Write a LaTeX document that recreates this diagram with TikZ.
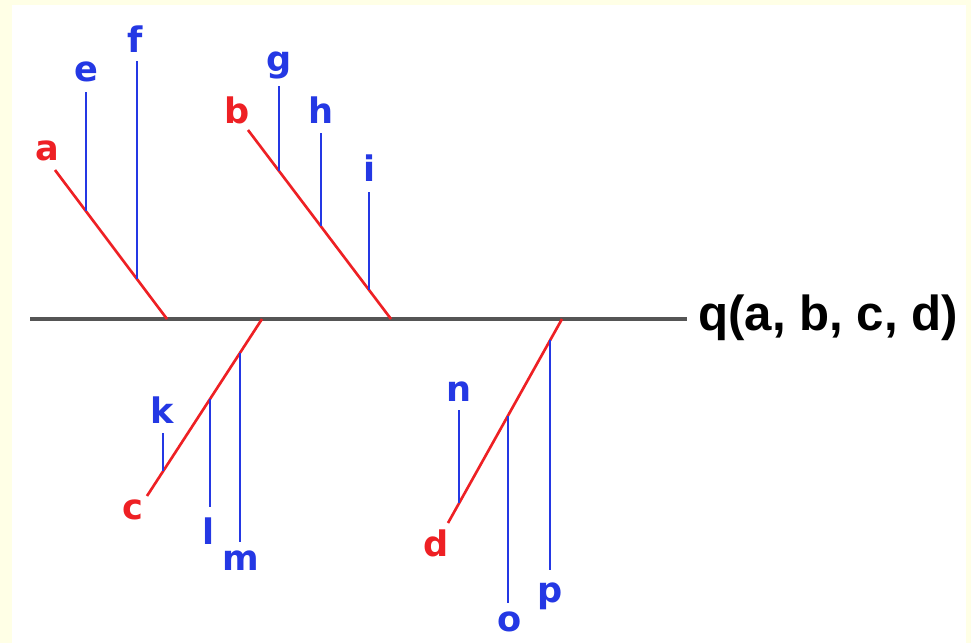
\documentclass[tikz,border=0pt]{standalone}
\usepackage{fontspec}
\setmainfont{Liberation Sans}
\newfontfamily\lblfont{DejaVu Sans}
\usetikzlibrary{calc}
\definecolor{bgyellow}{RGB}{255,255,230}
\definecolor{bonered}{RGB}{238,32,36}
\definecolor{boneblue}{RGB}{36,56,228}
\definecolor{spinegray}{RGB}{85,85,85}
\tikzstyle{redbone}=[draw=bonered, line width=1.5pt]
\tikzstyle{bluebone}=[draw=boneblue, line width=1.3pt]
\tikzstyle{redlbl}=[text=bonered, inner sep=0, font=\lblfont\bfseries\fontsize{20}{24}\selectfont]
\tikzstyle{bluelbl}=[text=boneblue, inner sep=0, font=\lblfont\bfseries\fontsize{20}{24}\selectfont]
\begin{document}
\begin{tikzpicture}[x=0.02cm, y=-0.02cm]
\fill[bgyellow] (0,0) rectangle (971,643);
\fill[white] (12,5) rectangle (966,643);
\coordinate (s0) at (30,319);
\coordinate (s1) at (687,319);
\draw[spinegray, line width=2.4pt] (s0) -- (s1);
\node[anchor=west, inner sep=0, font=\bfseries\fontsize{28}{32}\selectfont] (q) at (698,318) {q(a, b, c, d)};
\foreach \n/\x/\tx/\ty/\lx/\ly in {a/167/55/170/47/151, b/391/248/130/237/110, c/262/147/496/133/510, d/562/448/523/436/543}
{
\coordinate (\n0) at (\x,319);
\coordinate (\n1) at (\tx,\ty);
\draw[redbone] (\n0) -- (\n1);
\node[redlbl] (\n) at (\lx,\ly) {\n};
}
\foreach \n/\r/\t/\dy/\lx/\ly in {e/a/0.277/-119/86/72, f/a/0.732/-218/135/39, g/b/0.217/-85/279/65, h/b/0.51/-93/321/110, i/b/0.846/-98/370/168, k/c/0.139/-38/162/410, l/c/0.548/108/209/531, m/c/0.809/189/241/561, n/d/0.096/-93/459/392, o/d/0.526/187/510/622, p/d/0.895/230/550/596}
{
\coordinate (\n0) at ($(\r1)!\t!(\r0)$);
\coordinate (\n1) at ($(\n0)+(0,\dy)$);
\draw[bluebone] (\n0) -- (\n1);
\node[bluelbl] (\n) at (\lx,\ly) {\n};
}
\end{tikzpicture}
\end{document}
